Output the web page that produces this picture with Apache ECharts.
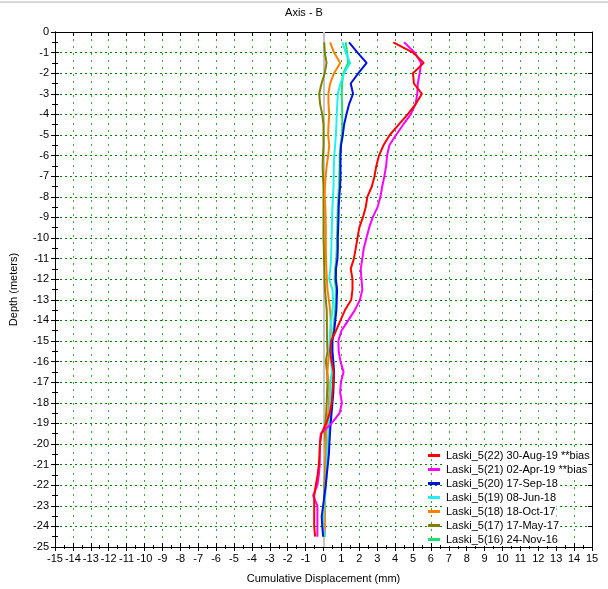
<!DOCTYPE html>
<html>
<head>
<meta charset="utf-8">
<script src="https://cdn.jsdelivr.net/npm/echarts@6/dist/echarts.min.js"></script>
<style>html,body{margin:0;padding:0;background:#fff;}#c{width:608px;height:589px;}</style>
</head>
<body>
<div id="c"></div>
<script>
var depths = [-0.5,-1,-1.5,-2,-2.5,-3,-3.5,-4,-4.5,-5,-5.5,-6,-6.5,-7,-7.5,-8,-8.5,-9,-9.5,-10,-10.5,-11,-11.5,-12,-12.5,-13,-13.5,-14,-14.5,-15,-15.5,-16,-16.5,-17,-17.5,-18,-18.5,-19,-19.5,-20,-20.5,-21,-21.5,-22,-22.5,-23,-23.5,-24,-24.5];

var s22 = [3.9,5.0,5.6,5.0,5.05,5.5,5.15,4.7,4.2,3.7,3.35,3.1,2.95,2.85,2.7,2.45,2.36,2.2,2.0,1.9,1.8,1.7,1.52,1.62,1.62,1.55,1.2,0.95,0.7,0.42,0.37,0.45,0.57,0.55,0.5,0.46,0.35,0.15,-0.12,-0.2,-0.22,-0.26,-0.33,-0.43,-0.52,-0.52,-0.52,-0.52,-0.47];
var s21 = [4.5,5.1,5.45,5.37,5.27,5.24,5.14,4.87,4.45,4.05,3.68,3.55,3.5,3.4,3.28,3.18,3.02,2.75,2.55,2.4,2.25,2.17,2.08,2.12,2.17,2.04,1.75,1.38,1.0,0.83,0.85,0.95,1.12,0.97,0.93,1.03,0.9,0.45,-0.15,-0.2,-0.21,-0.21,-0.26,-0.34,-0.58,-0.34,-0.34,-0.34,-0.34];
var s20 = [1.43,1.9,2.41,1.95,1.52,1.65,1.43,1.28,1.15,1.08,0.98,0.95,0.95,0.95,0.93,0.88,0.85,0.84,0.82,0.8,0.8,0.78,0.7,0.69,0.76,0.74,0.72,0.66,0.6,0.5,0.5,0.55,0.59,0.57,0.55,0.5,0.45,0.4,0.36,0.33,0.3,0.24,0.18,0.13,0.05,-0.02,-0.1,-0.07,-0.02];
var s19 = [1.06,1.24,1.49,1.15,0.95,0.8,0.77,0.74,0.72,0.69,0.65,0.6,0.58,0.57,0.56,0.53,0.5,0.48,0.47,0.45,0.44,0.42,0.38,0.32,0.5,0.54,0.5,0.43,0.37,0.34,0.32,0.42,0.48,0.37,0.37,0.37,0.33,0.3,0.27,0.24,0.22,0.19,0.16,0.13,0.09,0.04,0.0,-0.02,0.09];
var s18 = [0.37,0.59,0.93,0.59,0.37,0.27,0.28,0.32,0.28,0.26,0.32,0.26,0.18,0.12,0.08,0.07,0.1,0.12,0.13,0.13,0.13,0.14,0.16,0.19,0.22,0.3,0.37,0.4,0.41,0.38,0.32,0.26,0.22,0.28,0.32,0.3,0.26,0.2,0.15,0.13,0.13,0.12,0.1,0.1,0.09,0.09,0.08,0.08,0.08];
var s17 = [0.04,0.07,0.17,0.07,-0.11,-0.24,-0.19,-0.07,0.0,0.0,0.0,-0.03,-0.05,-0.03,0.0,0.0,0.0,0.0,0.0,0.0,0.02,0.03,0.05,0.06,0.08,0.13,0.18,0.19,0.19,0.2,0.22,0.13,0.2,0.22,0.2,0.18,0.15,0.1,0.09,0.12,0.13,0.1,0.08,0.05,0.06,0.05,0.04,0.03,0.03];
var s16 = [1.24,1.32,1.37,1.11,1.04,1.02,1.03,1.05,1.05,1.03,0.95,0.9,0.9,0.88,0.86,0.83,0.8,0.78,0.77,0.75,0.74,0.72,0.65,0.62,0.7,0.68,0.65,0.6,0.55,0.47,0.46,0.52,0.55,0.5,0.5,0.46,0.42,0.37,0.33,0.3,0.27,0.22,0.17,0.12,0.06,0.01,-0.04,-0.03,0.02];

var seriesNames = ['Laski_5(22) 30-Aug-19 **bias','Laski_5(21) 02-Apr-19 **bias','Laski_5(20) 17-Sep-18','Laski_5(19) 08-Jun-18','Laski_5(18) 18-Oct-17','Laski_5(17) 17-May-17','Laski_5(16) 24-Nov-16'];
var seriesValues = [s22, s21, s20, s19, s18, s17, s16];
var seriesColors = ['#ff0000','#ff00ff','#0010e0','#20f0f0','#ff8000','#808000','#20e070'];

var xTicks = {min: -15, max: 15, interval: 1};
var yTicks = {min: -25, max: 0, interval: 1};

var FONT = 'Liberation Sans, Arial, sans-serif';

function pairs(vals){ return vals.map(function(v,i){ return [v, depths[i]]; }); }

var series = [];
for (var k = seriesNames.length - 1; k >= 0; k--) {
  series.push({
    name: seriesNames[k], type: 'line', data: pairs(seriesValues[k]),
    xAxisIndex: 0, yAxisIndex: 0, showSymbol: false, symbol: 'none',
    lineStyle: {color: seriesColors[k], width: 2}, itemStyle: {color: seriesColors[k]},
    z: 10 + (seriesNames.length - k), animation: false
  });
}
series.unshift({
  name: 'zero', type: 'line', data: [], xAxisIndex: 0, yAxisIndex: 0,
  markLine: {silent: true, symbol: 'none', label: {show: false},
    lineStyle: {color: '#c4c4c4', width: 2, type: 'solid'}, data: [{xAxis: 0}]},
  z: 5, animation: false
});

function xAx(extra){
  var base = {type:'value', min:xTicks.min, max:xTicks.max, interval:xTicks.interval, gridIndex:0,
    axisLine:{show:true, onZero:false, lineStyle:{color:'#000', width:1}},
    axisTick:{show:true, inside:false, length:4, lineStyle:{color:'#000'}},
    minorTick:{show:true, splitNumber:2, length:2, lineStyle:{color:'#000'}},
    axisLabel:{show:false}, splitLine:{show:false}};
  for (var k in extra) base[k] = extra[k];
  return base;
}
function yAx(extra){
  var base = {type:'value', min:yTicks.min, max:yTicks.max, interval:yTicks.interval, gridIndex:0,
    axisLine:{show:true, onZero:false, lineStyle:{color:'#000', width:1}},
    axisTick:{show:true, inside:false, length:4, lineStyle:{color:'#000'}},
    minorTick:{show:true, splitNumber:2, length:3, lineStyle:{color:'#000'}},
    axisLabel:{show:false}, splitLine:{show:false}};
  for (var k in extra) base[k] = extra[k];
  return base;
}

var option = {
  backgroundColor: '#fff',
  animation: false,
  title: {text: 'Axis - B', left: 'center', top: 2, textStyle: {fontFamily: FONT, fontSize: 11, fontWeight: 'normal', color: '#000'}},
  grid: {left: 53, right: 16, top: 32, bottom: 39},
  legend: {
    orient: 'vertical', left: 428, top: 449, itemWidth: 12, itemHeight: 3, itemGap: 1,
    icon: 'rect', data: seriesNames,
    textStyle: {fontFamily: FONT, fontSize: 11, color: '#000', lineHeight: 13, padding: [0,1,0,1], backgroundColor: '#fff'},
    padding: 0
  },
  xAxis: [
    xAx({position:'bottom', name:'Cumulative Displacement (mm)', nameLocation:'middle', nameGap:26,
      nameTextStyle:{fontFamily:FONT, fontSize:11, color:'#000'},
      axisLabel:{show:true, fontFamily:FONT, fontSize:11, color:'#000', margin:6},
      splitLine:{show:true, lineStyle:{color:'#3aa83a', width:1, type:[2,5]}}}),
    xAx({position:'bottom', axisTick:{show:true, inside:true, length:4, lineStyle:{color:'#000'}},
      minorTick:{show:true, splitNumber:2, length:2, lineStyle:{color:'#000'}}}),
    xAx({position:'top', axisTick:{show:true, inside:true, length:4, lineStyle:{color:'#000'}},
      minorTick:{show:false}})
  ],
  yAxis: [
    yAx({position:'left', name:'Depth (meters)', nameLocation:'middle', nameGap:36, nameRotate:90,
      nameTextStyle:{fontFamily:FONT, fontSize:11, color:'#000'},
      axisLabel:{show:true, fontFamily:FONT, fontSize:11, color:'#000', margin:6},
      splitLine:{show:true, lineStyle:{color:'#008000', width:1, type:[2,3]}}}),
    yAx({position:'left', axisTick:{show:true, inside:true, length:4, lineStyle:{color:'#000'}},
      minorTick:{show:true, splitNumber:2, length:3, lineStyle:{color:'#000'}}}),
    yAx({position:'right', axisTick:{show:true, inside:true, length:4, lineStyle:{color:'#000'}},
      minorTick:{show:false}})
  ],
  graphic: [{type:'line', shape:{x1:0, y1:2, x2:608, y2:2}, style:{stroke:'#b0b0b0', lineWidth:1}, silent:true}],
  series: series
};

var chart = echarts.init(document.getElementById('c'), null, {renderer: 'canvas'});
chart.setOption(option);
</script>
</body>
</html>
